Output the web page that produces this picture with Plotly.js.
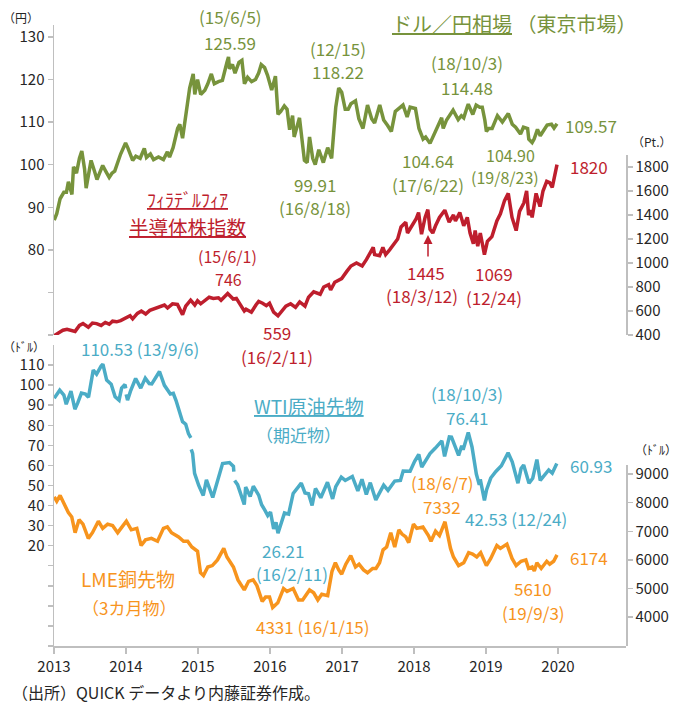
<!DOCTYPE html>
<html><head><meta charset="utf-8">
<script src="https://cdn.plot.ly/plotly-3.0.1.min.js"></script>
<style>html,body{margin:0;padding:0;background:#fff}#chart{width:688px;height:704px}</style>
</head><body><div id="chart"></div>
<script>
// ---- USD/JPY (Tokyo) ----
const jpyDates = ["2013-01-02","2013-01-15","2013-02-01","2013-02-20","2013-03-05","2013-03-15","2013-04-02","2013-04-10","2013-04-25","2013-05-10","2013-05-22","2013-06-05","2013-06-13","2013-06-28","2013-07-08","2013-07-25","2013-08-07","2013-08-20","2013-09-05","2013-09-20","2013-10-08","2013-10-22","2013-11-05","2013-11-20","2013-12-05","2013-12-30","2014-01-10","2014-02-04","2014-02-20","2014-03-14","2014-04-04","2014-04-15","2014-05-05","2014-05-21","2014-06-15","2014-07-10","2014-07-30","2014-08-10","2014-08-28","2014-09-20","2014-10-01","2014-10-15","2014-10-31","2014-11-20","2014-12-08","2014-12-16","2014-12-30","2015-01-15","2015-02-05","2015-02-20","2015-03-10","2015-03-25","2015-04-15","2015-05-05","2015-05-28","2015-06-05","2015-06-10","2015-06-25","2015-07-08","2015-07-28","2015-08-12","2015-08-25","2015-09-10","2015-09-30","2015-10-20","2015-11-05","2015-11-18","2015-12-05","2015-12-20","2016-01-10","2016-01-29","2016-02-11","2016-02-25","2016-03-14","2016-03-28","2016-04-10","2016-04-25","2016-05-03","2016-05-30","2016-06-16","2016-06-24","2016-07-08","2016-07-20","2016-08-05","2016-08-18","2016-09-05","2016-09-28","2016-10-20","2016-11-09","2016-11-30","2016-12-15","2016-12-30","2017-01-17","2017-02-01","2017-02-15","2017-03-10","2017-03-27","2017-04-17","2017-05-10","2017-05-31","2017-06-15","2017-07-11","2017-07-31","2017-08-20","2017-09-08","2017-09-28","2017-10-27","2017-11-06","2017-11-27","2017-12-12","2018-01-08","2018-01-26","2018-02-16","2018-03-01","2018-03-23","2018-04-20","2018-05-21","2018-05-29","2018-06-15","2018-07-18","2018-08-13","2018-08-29","2018-09-10","2018-09-28","2018-10-03","2018-10-26","2018-11-12","2018-11-30","2018-12-13","2018-12-26","2019-01-03","2019-01-15","2019-02-01","2019-02-28","2019-03-25","2019-04-24","2019-05-14","2019-05-31","2019-06-25","2019-07-10","2019-07-31","2019-08-06","2019-08-23","2019-09-02","2019-09-19","2019-10-03","2019-10-30","2019-11-07","2019-11-29","2019-12-12","2019-12-27"];
const jpyValues = [87.0,88.5,92.0,93.5,93.5,96.0,93.0,99.5,98.0,101.5,103.2,99.0,94.5,99.0,101.0,98.5,96.5,98.0,99.8,98.5,97.0,98.0,98.5,100.5,102.5,105.1,104.0,101.0,102.0,101.5,103.8,101.7,102.5,101.2,101.8,101.2,103.0,101.8,104.0,108.5,109.5,106.2,111.0,118.0,121.3,116.5,120.0,116.5,117.5,119.0,121.3,119.0,119.5,119.8,124.0,125.3,122.5,123.5,121.5,124.0,124.5,119.0,120.5,119.5,120.0,121.5,123.5,122.8,121.0,117.5,120.8,111.8,112.5,113.8,113.0,108.2,111.5,106.5,111.0,104.0,101.0,100.5,106.5,101.5,100.0,103.5,100.5,104.0,101.5,113.5,118.0,117.0,113.0,113.0,114.3,115.0,110.8,108.5,114.0,110.8,109.8,114.0,110.5,109.2,107.8,112.5,113.8,114.0,111.2,113.5,113.2,108.5,106.0,106.5,105.0,107.8,111.0,108.5,110.5,112.8,110.6,111.5,111.0,113.6,114.2,111.8,114.0,113.5,113.5,110.5,107.8,108.5,108.5,111.5,110.0,112.0,109.5,108.8,107.2,108.8,108.5,106.0,105.2,106.0,108.3,106.8,108.8,109.3,109.5,108.6,109.6];

// ---- Philadelphia Semiconductor Index ----
const soxDates = ["2013-01-02","2013-01-25","2013-02-15","2013-03-08","2013-03-28","2013-04-18","2013-05-10","2013-05-28","2013-06-24","2013-07-15","2013-08-05","2013-08-28","2013-09-18","2013-10-08","2013-10-25","2013-11-15","2013-12-05","2013-12-31","2014-01-22","2014-02-04","2014-02-28","2014-03-20","2014-04-11","2014-05-02","2014-05-28","2014-06-20","2014-07-15","2014-07-31","2014-08-25","2014-09-19","2014-10-15","2014-10-31","2014-11-25","2014-12-16","2014-12-30","2015-01-15","2015-02-10","2015-02-27","2015-03-20","2015-04-15","2015-04-28","2015-05-22","2015-06-01","2015-06-29","2015-07-15","2015-07-30","2015-08-24","2015-09-02","2015-09-29","2015-10-22","2015-11-05","2015-11-25","2015-12-14","2015-12-30","2016-01-20","2016-02-11","2016-03-01","2016-03-22","2016-04-15","2016-05-10","2016-05-31","2016-06-27","2016-07-15","2016-08-10","2016-09-12","2016-09-30","2016-10-25","2016-11-04","2016-11-25","2016-12-14","2016-12-30","2017-01-25","2017-02-15","2017-03-15","2017-04-13","2017-05-05","2017-06-08","2017-06-15","2017-07-10","2017-07-27","2017-08-10","2017-08-30","2017-09-20","2017-10-10","2017-10-27","2017-11-20","2017-11-29","2017-12-15","2018-01-12","2018-01-24","2018-02-08","2018-02-26","2018-03-12","2018-03-23","2018-04-06","2018-04-20","2018-05-10","2018-06-06","2018-06-28","2018-07-20","2018-07-30","2018-08-21","2018-09-10","2018-09-28","2018-10-12","2018-10-29","2018-11-07","2018-11-20","2018-12-03","2018-12-24","2019-01-08","2019-01-31","2019-02-25","2019-03-15","2019-04-05","2019-04-24","2019-05-13","2019-06-03","2019-06-20","2019-07-12","2019-07-26","2019-08-05","2019-08-15","2019-08-23","2019-09-12","2019-10-02","2019-10-17","2019-11-05","2019-11-20","2019-12-03","2019-12-17","2019-12-27"];
const soxValues = [395,420,440,448,440,430,480,495,465,500,495,480,505,490,515,510,520,545,560,535,580,600,575,605,620,635,650,625,660,655,570,640,690,650,685,660,690,715,705,710,690,735,746,700,705,665,600,615,590,650,680,665,645,665,590,560,600,640,660,630,675,640,715,760,740,800,820,775,840,860,870,930,975,1000,975,1030,1130,1070,1060,1130,1070,1110,1160,1200,1300,1340,1250,1290,1370,1420,1240,1380,1445,1280,1250,1310,1380,1440,1340,1400,1350,1420,1310,1380,1250,1160,1270,1140,1250,1070,1180,1220,1350,1410,1520,1580,1380,1270,1430,1500,1600,1400,1440,1380,1580,1470,1600,1680,1670,1630,1760,1820];

// ---- WTI crude futures (front month); null = no quote (short gap in line) ----
const wtiDates = ["2013-01-02","2013-01-30","2013-02-20","2013-03-04","2013-03-28","2013-04-17","2013-05-01","2013-05-20","2013-06-10","2013-06-25","2013-07-19","2013-08-05","2013-08-28","2013-09-06","2013-09-25","2013-10-18","2013-11-07","2013-11-27","2013-12-10","2013-12-27","2013-12-31","2014-01-01","2014-01-02","2014-01-09","2014-01-24","2014-02-19","2014-03-17","2014-04-09","2014-04-29","2014-05-12","2014-06-20","2014-07-15","2014-08-14","2014-08-29","2014-09-12","2014-10-15","2014-10-31","2014-11-14","2014-11-26","2014-11-27","2014-11-28","2014-12-05","2014-12-15","2015-01-05","2015-01-28","2015-02-13","2015-03-17","2015-04-14","2015-05-06","2015-06-10","2015-06-30","2015-07-02","2015-07-03","2015-07-06","2015-07-21","2015-08-24","2015-08-31","2015-09-23","2015-10-09","2015-11-05","2015-11-20","2015-12-07","2015-12-21","2016-01-04","2016-01-20","2016-02-01","2016-02-11","2016-03-15","2016-04-05","2016-04-28","2016-06-08","2016-06-27","2016-07-15","2016-08-02","2016-08-19","2016-09-15","2016-10-19","2016-11-14","2016-11-30","2016-12-28","2017-01-17","2017-02-22","2017-03-22","2017-04-12","2017-05-04","2017-05-24","2017-06-21","2017-07-31","2017-08-22","2017-09-25","2017-10-24","2017-11-07","2017-12-12","2018-01-04","2018-01-25","2018-02-09","2018-03-23","2018-04-18","2018-05-22","2018-06-05","2018-06-29","2018-07-10","2018-08-15","2018-08-31","2018-09-07","2018-10-03","2018-10-22","2018-11-13","2018-11-28","2018-12-03","2018-12-24","2019-01-04","2019-01-25","2019-02-20","2019-03-20","2019-04-23","2019-05-14","2019-06-12","2019-06-28","2019-07-11","2019-08-07","2019-08-26","2019-09-16","2019-10-03","2019-10-29","2019-11-15","2019-12-03","2019-12-26"];
const wtiValues = [93.5,97.5,95.0,90.5,97.0,88.0,91.0,96.0,95.5,94.0,107.5,105.5,109.5,110.5,102.5,100.5,94.2,92.5,98.5,100.3,98.4,null,95.4,92.5,97.0,103.3,98.5,103.5,100.8,100.6,106.8,99.9,95.6,95.9,92.3,81.8,80.5,75.8,73.7,null,68.0,66.0,56.0,50.0,45.0,52.8,44.0,53.3,60.9,61.4,59.5,56.9,null,52.5,50.4,40.5,49.2,44.5,49.6,45.2,40.4,37.6,35.0,36.8,28.4,31.6,26.2,36.3,35.7,46.0,51.2,46.3,45.9,40.0,48.5,43.9,51.6,43.3,49.4,54.1,52.5,54.5,47.3,53.1,45.5,51.4,42.8,50.2,47.6,52.2,52.5,57.2,57.1,62.0,65.5,59.2,65.9,68.5,72.2,64.5,74.2,74.1,65.0,69.8,67.8,76.4,69.2,55.7,50.3,53.0,42.5,47.9,53.7,57.0,59.8,66.3,61.8,51.1,58.5,60.2,51.1,53.6,62.9,52.5,55.5,57.7,56.1,60.9];

// ---- LME copper 3-month ----
const cuDates = ["2013-01-02","2013-01-15","2013-02-01","2013-02-20","2013-03-15","2013-04-01","2013-04-18","2013-05-08","2013-05-28","2013-06-24","2013-07-15","2013-08-14","2013-09-05","2013-09-30","2013-10-25","2013-11-20","2013-12-20","2014-01-03","2014-01-28","2014-02-25","2014-03-19","2014-04-10","2014-05-10","2014-06-10","2014-07-10","2014-07-30","2014-08-20","2014-09-25","2014-10-20","2014-11-10","2014-12-01","2014-12-30","2015-01-14","2015-01-29","2015-02-20","2015-03-15","2015-04-10","2015-05-12","2015-05-28","2015-06-30","2015-07-23","2015-08-24","2015-09-15","2015-10-08","2015-10-27","2015-11-23","2015-12-10","2015-12-30","2016-01-15","2016-02-10","2016-03-10","2016-03-28","2016-04-28","2016-05-25","2016-06-15","2016-07-20","2016-08-10","2016-08-31","2016-09-20","2016-10-20","2016-11-11","2016-11-28","2016-12-15","2016-12-30","2017-01-20","2017-02-14","2017-03-10","2017-03-28","2017-04-20","2017-05-10","2017-06-05","2017-06-22","2017-07-10","2017-07-28","2017-08-15","2017-09-05","2017-09-25","2017-10-16","2017-11-01","2017-11-20","2017-12-05","2017-12-29","2018-01-15","2018-02-15","2018-03-15","2018-03-28","2018-04-20","2018-05-10","2018-06-07","2018-06-20","2018-07-05","2018-07-20","2018-08-15","2018-09-10","2018-10-05","2018-10-25","2018-11-15","2018-12-05","2018-12-20","2019-01-03","2019-01-25","2019-02-25","2019-03-15","2019-04-17","2019-05-13","2019-06-03","2019-06-28","2019-07-22","2019-08-05","2019-08-23","2019-09-03","2019-09-16","2019-10-08","2019-11-05","2019-11-20","2019-12-10","2019-12-27"];
const cuValues = [8200,8050,8250,7950,7650,7500,6950,7400,7250,6750,6950,7350,7100,7250,7200,6950,7250,7350,7050,7100,6500,6700,6750,6650,7100,7150,6950,6800,6650,6650,6450,6300,5550,5450,5750,5800,6000,6400,6100,5750,5300,4950,5250,5300,5100,4550,4700,4700,4331,4500,5000,4900,5000,4600,4600,4950,4850,4600,4800,4750,5600,5900,5650,5500,5850,6150,5750,5850,5650,5550,5700,5700,5900,6350,6450,6950,6450,7050,6900,6800,6600,7250,7100,7150,6850,6650,7000,6850,7332,6900,6400,6100,5800,5900,6250,6200,6100,6250,6000,5800,6050,6500,6400,6550,6050,5800,5950,6000,5700,5750,5610,5900,5700,5950,5850,5950,6174];

const xTickVals = ["2013-01-01","2014-01-01","2015-01-01","2016-01-01","2017-01-01","2018-01-01","2019-01-01","2020-01-01"];
const xTickText = ["2013","2014","2015","2016","2017","2018","2019","2020"];

const GREEN = "#77933c", RED = "#be1e2d", BLUE = "#4bacc6", ORANGE = "#f7941d";
const AX = "#bfbfbf", TXT = "#262626";
const FONT = "Noto Sans CJK JP, Noto Sans, sans-serif";

// plot area: left 54px, right 626px, top 25px, bottom 646px
const L = 54, R = 626, T = 25, B = 646;
function px(x){ return (x - L) / (R - L); }
function py(y){ return (B - y) / (B - T); }
function note(text, x, y, color, size, extra){
  return Object.assign({text: text, x: px(x), y: py(y), xref: "paper", yref: "paper",
    xanchor: "center", yanchor: "middle", showarrow: false,
    font: {family: FONT, size: size, color: color}}, extra || {});
}

const traces = [
  {x: jpyDates, y: jpyValues, xaxis: "x", yaxis: "y", type: "scatter", mode: "lines", line: {color: GREEN, width: 3.5}},
  {x: soxDates, y: soxValues, xaxis: "x", yaxis: "y2", type: "scatter", mode: "lines", line: {color: RED, width: 3.5}},
  {x: wtiDates, y: wtiValues, xaxis: "x", yaxis: "y3", type: "scatter", mode: "lines", line: {color: BLUE, width: 3.5}, connectgaps: false},
  {x: cuDates, y: cuValues, xaxis: "x", yaxis: "y4", type: "scatter", mode: "lines", line: {color: ORANGE, width: 3.5}}
];

const yBase = {showgrid: false, zeroline: false, showline: true, linecolor: AX, linewidth: 1.5,
  ticks: "outside", ticklen: 5, tickcolor: AX, tickwidth: 1.5,
  tickfont: {family: FONT, size: 15, color: TXT}, fixedrange: true};

const jpyTicks = [60,70,80,90,100,110,120,130];
const wtiTicks = [-30,-20,-10,0,10,20,30,40,50,60,70,80,90,100,110];

const layout = {
  width: 688, height: 704,
  margin: {l: L, r: 688 - R, t: T, b: 704 - B},
  paper_bgcolor: "#fff", plot_bgcolor: "rgba(0,0,0,0)",
  showlegend: false,
  font: {family: FONT, color: TXT},
  xaxis: {type: "date", range: ["2013-01-01","2020-12-11"], anchor: "y3",
    tickvals: xTickVals, ticktext: xTickText, ticks: "outside", ticklen: 6, tickcolor: AX, tickwidth: 1.5,
    showline: true, linecolor: AX, linewidth: 1.5, showgrid: false, zeroline: false,
    tickfont: {family: FONT, size: 15, color: TXT}},
  yaxis: Object.assign({}, yBase, {domain: [py(335), 1], range: [60, 132.8], anchor: "x", side: "left",
    tickvals: jpyTicks, ticktext: jpyTicks.map(v => v >= 80 ? String(v) : "")}),
  yaxis2: Object.assign({}, yBase, {domain: [py(335), py(155)], range: [400, 1900], anchor: "x", side: "right",
    tickvals: [400,600,800,1000,1200,1400,1600,1800]}),
  yaxis3: Object.assign({}, yBase, {domain: [0, py(345)], range: [-30, 120], anchor: "x", side: "left",
    tickvals: wtiTicks, ticktext: wtiTicks.map(v => v >= 20 ? String(v) : "")}),
  yaxis4: Object.assign({}, yBase, {domain: [0, py(465)], range: [2990, 9315], anchor: "x", side: "right",
    tickvals: [4000,5000,6000,7000,8000,9000]}),
  annotations: [
    // unit labels
    note("（円）", 21, 18, TXT, 12),
    note("（Pt.）", 652, 142, TXT, 12),
    note("（ﾄﾞﾙ）", 24, 346, TXT, 12),
    note("（ﾄﾞﾙ）", 656, 450, TXT, 12),
    // USD/JPY
    note("<u>ドル／円相場</u> （東京市場）", 390, 24, GREEN, 20, {xanchor: "left"}),
    note("(15/6/5)", 230, 17, GREEN, 17),
    note("125.59", 230, 42, GREEN, 17),
    note("(12/15)", 338, 48, GREEN, 17),
    note("118.22", 338, 71, GREEN, 17),
    note("(18/10/3)", 467, 62, GREEN, 17),
    note("114.48", 467, 87, GREEN, 17),
    note("109.57", 591, 125, GREEN, 17),
    note("104.64", 428, 161, GREEN, 17),
    note("(17/6/22)", 428, 184, GREEN, 17),
    note("99.91", 315, 184, GREEN, 17),
    note("(16/8/18)", 315, 208, GREEN, 17),
    note("104.90", 510, 155, GREEN, 16),
    note("(19/8/23)", 505, 177, GREEN, 16),
    // SOX
    note("<u>ﾌｨﾗﾃﾞﾙﾌｨｱ</u>", 187, 199, RED, 18),
    note("<u>半導体株指数</u>", 187, 226, RED, 19.5),
    note("(15/6/1)", 227, 256, RED, 16),
    note("746", 228, 279, RED, 16),
    note("559", 277, 332, RED, 17),
    note("(16/2/11)", 277, 357, RED, 17),
    {x: px(428), y: py(235), xref: "paper", yref: "paper", text: "", showarrow: true,
      ax: 0, ay: 23, arrowhead: 2, arrowsize: 1.2, arrowwidth: 1.5, arrowcolor: RED},
    note("1445", 426, 272, RED, 17),
    note("(18/3/12)", 422, 295, RED, 17),
    note("1069", 494, 273, RED, 17),
    note("(12/24)", 494, 298, RED, 17),
    note("1820", 589, 166, RED, 17),
    // WTI
    note("110.53 (13/9/6)", 140, 348, BLUE, 17),
    note("<u>WTI原油先物</u>", 309, 405, BLUE, 19),
    note("（期近物）", 298, 434, BLUE, 17),
    note("(18/10/3)", 467, 393, BLUE, 17),
    note("76.41", 467, 417, BLUE, 17),
    note("60.93", 591, 465, BLUE, 17),
    note("42.53 (12/24)", 516, 518, BLUE, 17),
    note("26.21", 283, 550, BLUE, 17),
    note("(16/2/11)", 292, 573, BLUE, 17),
    // Copper
    note("(18/6/7)", 442, 483, ORANGE, 17),
    note("7332", 442, 506, ORANGE, 17),
    note("LME銅先物", 128, 578, ORANGE, 19),
    note("（3カ月物）", 129, 607, ORANGE, 17),
    note("4331 (16/1/15)", 313, 626, ORANGE, 17),
    note("6174", 589, 557, ORANGE, 17),
    note("5610", 533, 588, ORANGE, 17),
    note("(19/9/3)", 533, 612, ORANGE, 17),
    // source
    note("（出所）QUICK データより内藤証券作成。", 10, 692, TXT, 16, {xanchor: "left"})
  ]
};

Plotly.newPlot("chart", traces, layout, {displayModeBar: false, staticPlot: true});
</script>
</body></html>
